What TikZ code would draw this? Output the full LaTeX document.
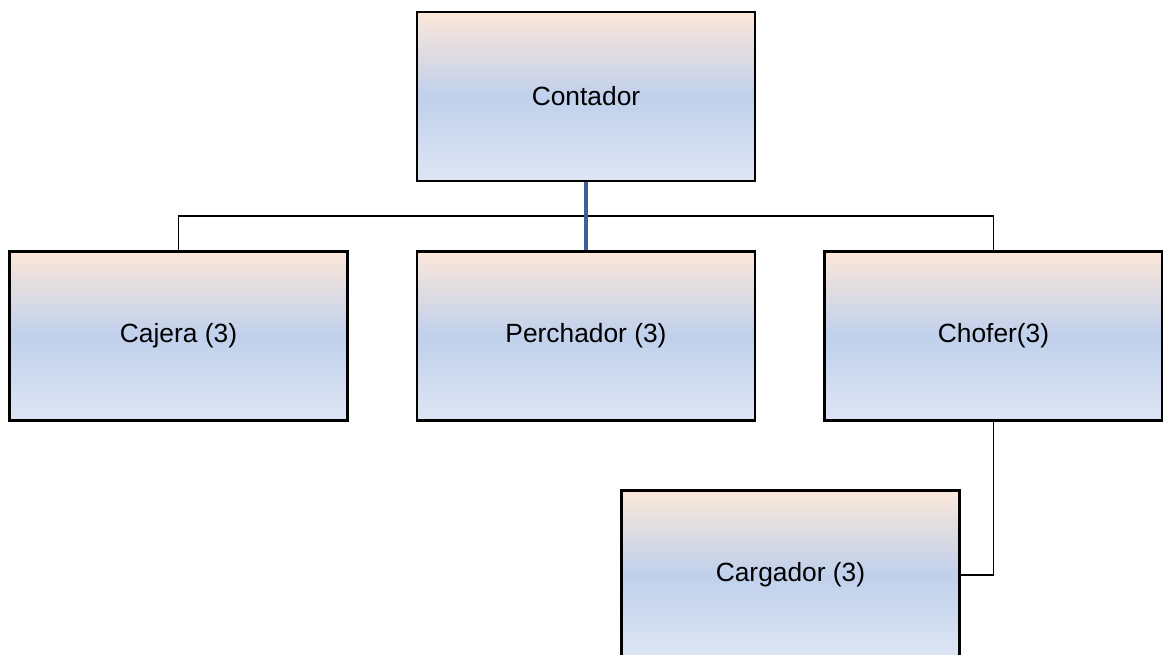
\documentclass[tikz,border=0pt]{standalone}
\usepackage{fontspec}
\setmainfont{Liberation Sans}

\definecolor{peach}{RGB}{251,231,217}
\definecolor{midblue}{RGB}{192,208,236}
\definecolor{lowblue}{RGB}{222,230,244}
\definecolor{linkblue}{RGB}{62,96,148}

\begin{document}
\begin{tikzpicture}[x=0.02cm,y=-0.02cm]

    \tikzset{
      post/.style={
        draw=black,
        line width=1.2pt,
        rectangle,
        top color=peach,
        bottom color=lowblue,
        middle color=midblue,
        minimum width=6.76cm,
        minimum height=3.38cm,
        inner sep=0pt,
        font=\fontsize{15}{18}\selectfont,
      },
      link/.style={black,line width=0.8pt},
      mainlink/.style={linkblue,line width=1.8pt},
    }
    \useasboundingbox (0,0) rectangle (1163,655);
    \clip (0,0) rectangle (1163,655);

	% boxes
	\node[post] (contador) at (586,96.5) {Contador};
	\node[post] (cajera) at (178.5,336) {Cajera (3)};
	\node[post] (perchador) at (586,336) {Perchador (3)};
	\node[post] (chofer) at (993.5,336) {Chofer(3)};
	\node[post] (cargador) at (790.5,575) {Cargador (3)};

	% lines
	\coordinate (bus) at (586,216);
	\draw[link] (cajera.north) |- (bus) -| (chofer.north);
	\draw[link] (contador.south) -- (bus);
	\draw[mainlink] (contador.south) -- (perchador.north);
	\draw[link] (chofer.south) |- (cargador.east);

\end{tikzpicture}
\end{document}
